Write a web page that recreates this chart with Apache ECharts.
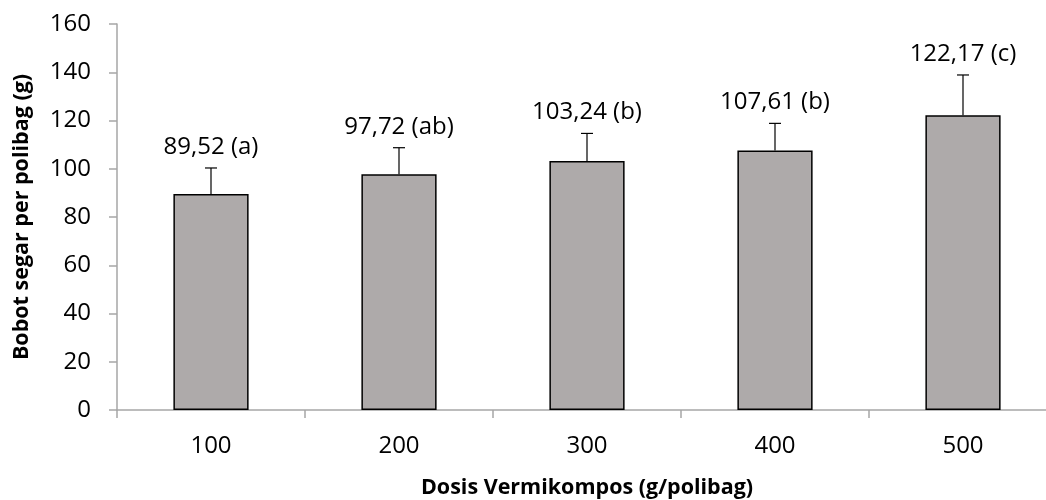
<!DOCTYPE html>
<html>
<head>
<meta charset="utf-8">
<script src="https://cdn.jsdelivr.net/npm/echarts@6/dist/echarts.min.js"></script>
<style>
html,body{margin:0;padding:0;background:#fff;overflow:hidden;}
#chart{width:1046px;height:500px;}
</style>
</head>
<body>
<div id="chart"></div>
<script>
var categories = ['100', '200', '300', '400', '500'];
var means = [89.52, 97.72, 103.24, 107.61, 122.17];
var errors = [10.8, 11.0, 11.4, 11.2, 16.7];
var labels = ['89,52 (a)', '97,72 (ab)', '103,24 (b)', '107,61 (b)', '122,17 (c)'];
var yTicks = [0, 20, 40, 60, 80, 100, 120, 140, 160];

var FONT = 'Open Sans';
var chart = echarts.init(document.getElementById('chart'));

var errData = means.map(function (m, i) { return [i, m, m + errors[i]]; });

chart.setOption({
  animation: false,
  grid: { left: 117, top: 24, width: 940, height: 386, containLabel: false, outerBoundsMode: 'none' },
  xAxis: {
    type: 'category',
    data: categories,
    name: 'Dosis Vermikompos (g/polibag)',
    nameLocation: 'middle',
    nameGap: 67,
    nameTextStyle: { fontFamily: FONT, fontSize: 21.5, fontWeight: 'bold', color: '#000' },
    axisLine: { lineStyle: { color: '#a6a6a6', width: 1.5 } },
    axisTick: { show: true, length: 8, lineStyle: { color: '#a6a6a6', width: 1.5 } },
    axisLabel: { fontFamily: FONT, fontSize: 24, color: '#000', margin: 24 }
  },
  yAxis: {
    type: 'value',
    min: yTicks[0],
    max: yTicks[yTicks.length - 1],
    interval: 20,
    name: 'Bobot segar per polibag (g)',
    nameLocation: 'middle',
    nameGap: 84,
    nameTextStyle: { fontFamily: FONT, fontSize: 21.5, fontWeight: 'bold', color: '#000' },
    axisLine: { show: true, lineStyle: { color: '#a6a6a6', width: 1.5 } },
    axisTick: { show: true, length: 8, lineStyle: { color: '#a6a6a6', width: 1.5 } },
    splitLine: { show: false },
    axisLabel: { fontFamily: FONT, fontSize: 24, color: '#000', margin: 26 }
  },
  series: [
    {
      type: 'bar',
      data: means,
      barWidth: '40%',
      itemStyle: { color: '#aeaaaa', borderColor: '#000', borderWidth: 1.5 },
      z: 2
    },
    {
      type: 'custom',
      data: errData,
      z: 3,
      renderItem: function (params, api) {
        var i = api.value(0);
        var base = api.coord([i, api.value(1)]);
        var top = api.coord([i, api.value(2)]);
        var cap = 6;
        return {
          type: 'group',
          children: [
            { type: 'line', shape: { x1: base[0], y1: base[1], x2: top[0], y2: top[1] }, style: { stroke: '#000', lineWidth: 1.2 } },
            { type: 'line', shape: { x1: top[0] - cap, y1: top[1], x2: top[0] + cap, y2: top[1] }, style: { stroke: '#000', lineWidth: 1.2 } },
            { type: 'text', x: top[0], y: top[1] - 9, style: { text: labels[params.dataIndex], fontFamily: FONT, fontSize: 24, fill: '#000', align: 'center', verticalAlign: 'bottom' } }
          ]
        };
      }
    }
  ]
});
</script>
</body>
</html>
